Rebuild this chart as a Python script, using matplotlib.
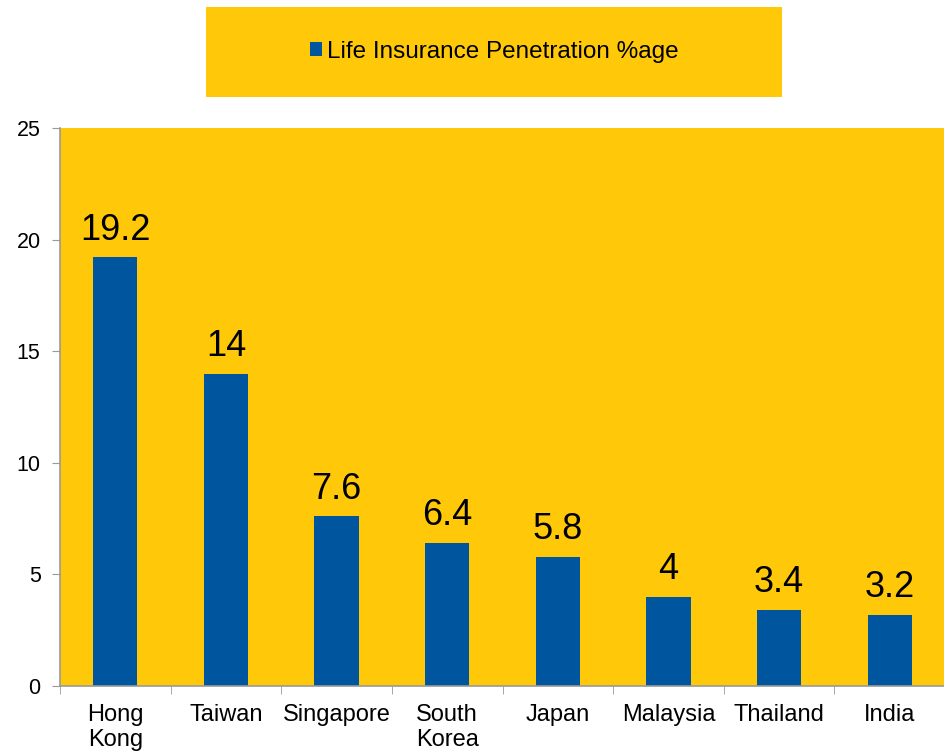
import numpy as np
import matplotlib.pyplot as plt
from matplotlib.patches import Rectangle

# life insurance penetration by country
countries = ['Hong\nKong', 'Taiwan', 'Singapore', 'South\nKorea', 'Japan',
             'Malaysia', 'Thailand', 'India']
penetration = [19.2, 14, 7.6, 6.4, 5.8, 4, 3.4, 3.2]
value_labels = ['19.2', '14', '7.6', '6.4', '5.8', '4', '3.4', '3.2']

plt.rcParams['font.family'] = ['Liberation Sans', 'DejaVu Sans']

yellow = '#FFC90A'
blue = '#00559F'
grey = '#999999'

fig = plt.figure(figsize=(9.45, 7.56), dpi=100)
ax = fig.add_axes([0.0635, 0.0926, 0.9365, 0.7381])
ax.set_facecolor(yellow)

x = np.arange(len(countries))
bars = ax.bar(x, penetration, width=0.4, color=blue, label='Life Insurance Penetration %age', zorder=2)

# 数值标签
for xi, v, txt in zip(x, penetration, value_labels):
    ax.annotate(txt, (xi, v), xytext=(0, 7), textcoords='offset points',
                ha='center', va='bottom', fontsize=26, color='black')

ax.set_xlim(-0.5, len(countries) - 0.5)
ax.set_ylim(0, 25)
ax.set_yticks([0, 5, 10, 15, 20, 25])
ax.tick_params(axis='y', labelsize=15.5, length=6, color=grey, pad=8)

# 类别标签放在中间，刻度线放在类别边界
ax.set_xticks(x)
ax.set_xticklabels(countries, fontsize=17, linespacing=1.15)
ax.tick_params(axis='x', which='major', length=0, pad=13)
ax.set_xticks(np.arange(len(countries)) - 0.5, minor=True)
ax.tick_params(axis='x', which='minor', length=6, color=grey)

for side in ['top', 'right']:
    ax.spines[side].set_visible(False)
for side in ['left', 'bottom']:
    ax.spines[side].set_color(grey)
    ax.spines[side].set_linewidth(1.2)

# 图例外框
fig.patches.append(Rectangle((0.218, 0.8717), 0.6095, 0.119, transform=fig.transFigure,
                             facecolor=yellow, edgecolor='none'))
fig.legend(handles=[bars], labels=['Life Insurance Penetration %age'],
           loc='center', bbox_to_anchor=(0.218 + 0.6095 / 2, 0.8717 + 0.119 / 2),
           frameon=False, fontsize=17.5, handlelength=0.5, handleheight=0.5,
           handletextpad=0.2)

fig.savefig('out.png', dpi=100)
